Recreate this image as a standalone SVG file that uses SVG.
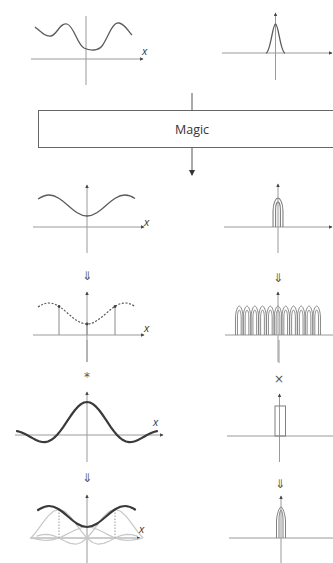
<svg xmlns="http://www.w3.org/2000/svg" width="333" height="563" viewBox="0 0 333 563">
<style>
text{opacity:0.99}
.ax{stroke:#9a9a9a;stroke-width:1;fill:none}
.axa{stroke:#9a9a9a;stroke-width:1;fill:none;marker-end:url(#ah)}
.cv{stroke:#5a5a5a;stroke-width:1.3;fill:none;stroke-linejoin:round}
.thick{stroke:#3a3a3a;stroke-width:2.2;fill:none;stroke-linejoin:round;stroke-linecap:round}
.lite{stroke:#c8c8c8;stroke-width:1.2;fill:none;stroke-linejoin:round}
.dot{stroke:#5a5a5a;stroke-width:1.2;fill:none;stroke-dasharray:2,1.6}
.stem{stroke:#8a8a8a;stroke-width:1;fill:none}
.arch{stroke:#808080;stroke-width:1;fill:none}
.lbl{font-family:"Open Sans","DejaVu Sans",sans-serif;font-style:italic;font-size:11px;fill:#333}
.op{font-family:"DejaVu Sans",sans-serif;font-size:12px;fill:#555;text-anchor:middle}
.conn{stroke:#555;stroke-width:1;fill:none}
</style>
<defs>
<marker id="ah" viewBox="0 0 6 6" refX="5" refY="3" markerWidth="3.5" markerHeight="3.5" orient="auto" markerUnits="userSpaceOnUse">
<path d="M0,0 L6,3 L0,6 z" fill="#444"/>
</marker>
<marker id="ah2" viewBox="0 0 6 6" refX="5" refY="3" markerWidth="6" markerHeight="6" orient="auto" markerUnits="userSpaceOnUse">
<path d="M0,0 L6,3 L0,6 z" fill="#333"/>
</marker>
<path id="archp" d="M-4.5,0 V-16 C-4.5,-25 -1.5,-29 0,-29 C1.5,-29 4.5,-25 4.5,-16 V0 M-2.2,0 V-17 C-2.2,-22 -1,-25 0,-25 C1,-25 2.2,-22 2.2,-17 V0"/>
<path id="cos" d="M38,199 C42,196.5 45,195 49,195 C62.8,195 73.2,216 87,216 C100.8,216 111.2,195 125,195 C129,195 132,196.5 135,198.5"/>
</defs>

<g id="panel-top-left">
<line class="ax" x1="86" y1="85" x2="86" y2="16"/>
<line class="axa" x1="31" y1="59" x2="143" y2="59"/>
<path class="cv" d="M35,27 C42,33 46,37 51,36 C57,35 60,22 67,24 C74,26 77,44 84,48 C90,51 98,51 102,46 C108,38 112,22 119,23 C125,24 128,31 132,35"/>
<text class="lbl" x="142" y="55">x</text>
</g>

<g id="panel-top-right">
<line class="axa" x1="275.5" y1="80" x2="275.5" y2="13"/>
<line class="axa" x1="222" y1="53" x2="332" y2="53"/>
<path class="cv" d="M266,53 C270.5,52.5 272.5,24 275.5,24 C278.5,24 280.5,52.5 285,53"/>
</g>

<g id="magic">
<rect x="38.5" y="110.5" width="300" height="37" fill="#fff" stroke="#666" stroke-width="1"/>
<text x="192" y="133.5" font-family="'Open Sans','DejaVu Sans',sans-serif" font-size="12.5" fill="#333" text-anchor="middle">Magic</text>
</g>

<g id="connectors">
<line class="conn" x1="192" y1="93" x2="192" y2="110.5"/>
<line class="conn" x1="192" y1="147.5" x2="192" y2="175" marker-end="url(#ah2)"/>
<line class="ax" x1="87" y1="362" x2="87" y2="340"/>
<line class="ax" x1="279" y1="363" x2="279" y2="340"/>
</g>

<g id="panel-3-left">
<line class="axa" x1="87" y1="253" x2="87" y2="185"/>
<line class="axa" x1="33" y1="227" x2="144" y2="227"/>
<use href="#cos" class="cv"/>
<text class="lbl" x="144" y="226">x</text>
</g>

<g id="panel-3-right">
<line class="axa" x1="278" y1="253" x2="278" y2="184"/>
<line class="axa" x1="224" y1="227" x2="332" y2="227"/>
<use href="#archp" class="arch" transform="translate(278,227) scale(1.1,1)"/>
</g>

<g id="op-down-1">
<text class="op" x="87" y="280">⇓</text>
<text class="op" x="278" y="282">⇓</text>
</g>

<g id="panel-4-left">
<line class="axa" x1="87" y1="362" x2="87" y2="292"/>
<line class="axa" x1="33" y1="335" x2="144" y2="335"/>
<use href="#cos" class="dot" transform="translate(0,108)"/>
<line class="stem" x1="59" y1="306.5" x2="59" y2="335"/>
<line class="stem" x1="87" y1="324" x2="87" y2="335"/>
<line class="stem" x1="115" y1="306.5" x2="115" y2="335"/>
<circle cx="59" cy="306.5" r="1.4" fill="#444"/>
<circle cx="87" cy="324" r="1.4" fill="#444"/>
<circle cx="115" cy="306.5" r="1.4" fill="#444"/>
<text class="lbl" x="144" y="332">x</text>
</g>

<g id="panel-4-right">
<line class="axa" x1="278" y1="362" x2="278" y2="292"/>
<line class="ax" x1="225" y1="335" x2="333" y2="335"/>
<g class="arch" transform="translate(0,335)">
<use href="#archp" transform="translate(239.3,0) scale(0.85,1)"/>
<use href="#archp" transform="translate(247.0,0) scale(0.85,1)"/>
<use href="#archp" transform="translate(254.8,0) scale(0.85,1)"/>
<use href="#archp" transform="translate(262.5,0) scale(0.85,1)"/>
<use href="#archp" transform="translate(270.3,0) scale(0.85,1)"/>
<use href="#archp" transform="translate(278.0,0) scale(0.85,1)"/>
<use href="#archp" transform="translate(285.7,0) scale(0.85,1)"/>
<use href="#archp" transform="translate(293.5,0) scale(0.85,1)"/>
<use href="#archp" transform="translate(301.2,0) scale(0.85,1)"/>
<use href="#archp" transform="translate(309.0,0) scale(0.85,1)"/>
<use href="#archp" transform="translate(316.7,0) scale(0.85,1)"/>
</g>
</g>

<g id="op-conv">
<text class="op" x="87" y="381" font-size="13">*</text>
<text class="op" x="279" y="383">×</text>
</g>

<g id="panel-5-left">
<line class="axa" x1="87" y1="462" x2="87" y2="392"/>
<line class="axa" x1="15" y1="435" x2="163" y2="435"/>
<path class="thick" d="M17,431.1 L18,431.3 21,432.2 24,433.5 27,435 30,436.7 33,438.4 36,440 39,441.2 42,442 45,442.1 48,441.5 51,440.1 54,437.9 57,435 60,431.4 63,427.3 66,422.9 69,418.3 72,414 75,410 78,406.7 81,404.1 84,402.5 87,402 90,402.5 93,404.1 96,406.7 99,410 102,414 105,418.3 108,422.9 111,427.3 114,431.4 117,435 120,437.9 123,440.1 126,441.5 129,442.1 132,442 135,441.2 138,440 141,438.4 144,436.7 147,435 150,433.5 153,432.2 156,431.3 157,431.1"/>
<text class="lbl" x="153" y="426">x</text>
</g>

<g id="panel-5-right">
<line class="axa" x1="279.5" y1="462" x2="279.5" y2="394"/>
<line class="ax" x1="227" y1="436" x2="333" y2="436"/>
<rect x="275" y="406" width="10.5" height="30" fill="none" stroke="#808080" stroke-width="1"/>
</g>

<g id="op-down-2">
<text class="op" x="87" y="482">⇓</text>
<text class="op" x="280" y="488">⇓</text>
</g>

<g id="panel-6-left">
<line class="axa" x1="87" y1="563" x2="87" y2="495"/>
<line class="axa" x1="30" y1="538" x2="140" y2="538"/>
<polyline class="lite" points="31,538 36.6,531.3 42.2,523.6 47.8,516.4 53.4,511.2 59,509.4 64.6,511.2 70.2,516.4 75.8,523.6 81.4,531.3 87,538 92.6,542.5 98.2,544.2 103.8,543.4 109.4,541 115,538 120.6,535.6 126.2,534.4 131.8,534.7 137.4,536.1"/>
<polyline class="lite" points="143,538 137.4,531.3 131.8,523.6 126.2,516.4 120.6,511.2 115,509.4 109.4,511.2 103.8,516.4 98.2,523.6 92.6,531.3 87,538 81.4,542.5 75.8,544.2 70.2,543.4 64.6,541 59,538 53.4,535.6 47.8,534.4 42.2,534.7 36.6,536.1"/>
<polyline class="lite" points="31,538 36.6,539.1 42.2,540.1 47.8,540.4 53.4,539.7 59,538 64.6,535.4 70.2,532.5 75.8,529.7 81.4,527.7 87,527 92.6,527.7 98.2,529.7 103.8,532.5 109.4,535.4 115,538 120.6,539.7 126.2,540.4 131.8,540.1 137.4,539.1 143,538"/>
<line x1="59" y1="509.5" x2="59" y2="538" stroke="#999" stroke-width="1" stroke-dasharray="1.5,1.5"/>
<line x1="115" y1="509.5" x2="115" y2="538" stroke="#999" stroke-width="1" stroke-dasharray="1.5,1.5"/>
<use href="#cos" class="thick" transform="translate(0,311)"/>
<text class="lbl" x="139" y="533">x</text>
</g>

<g id="panel-6-right">
<line class="axa" x1="281" y1="563" x2="281" y2="496"/>
<line class="ax" x1="229" y1="538" x2="333" y2="538"/>
<path class="arch" d="M276.5,538 V522 C276.5,514 279.5,507 281,507 C282.5,507 285.5,514 285.5,522 V538 M279,538 V520 C279,514 280.3,510 281,510 C281.7,510 283,514 283,520 V538"/>
</g>
</svg>
